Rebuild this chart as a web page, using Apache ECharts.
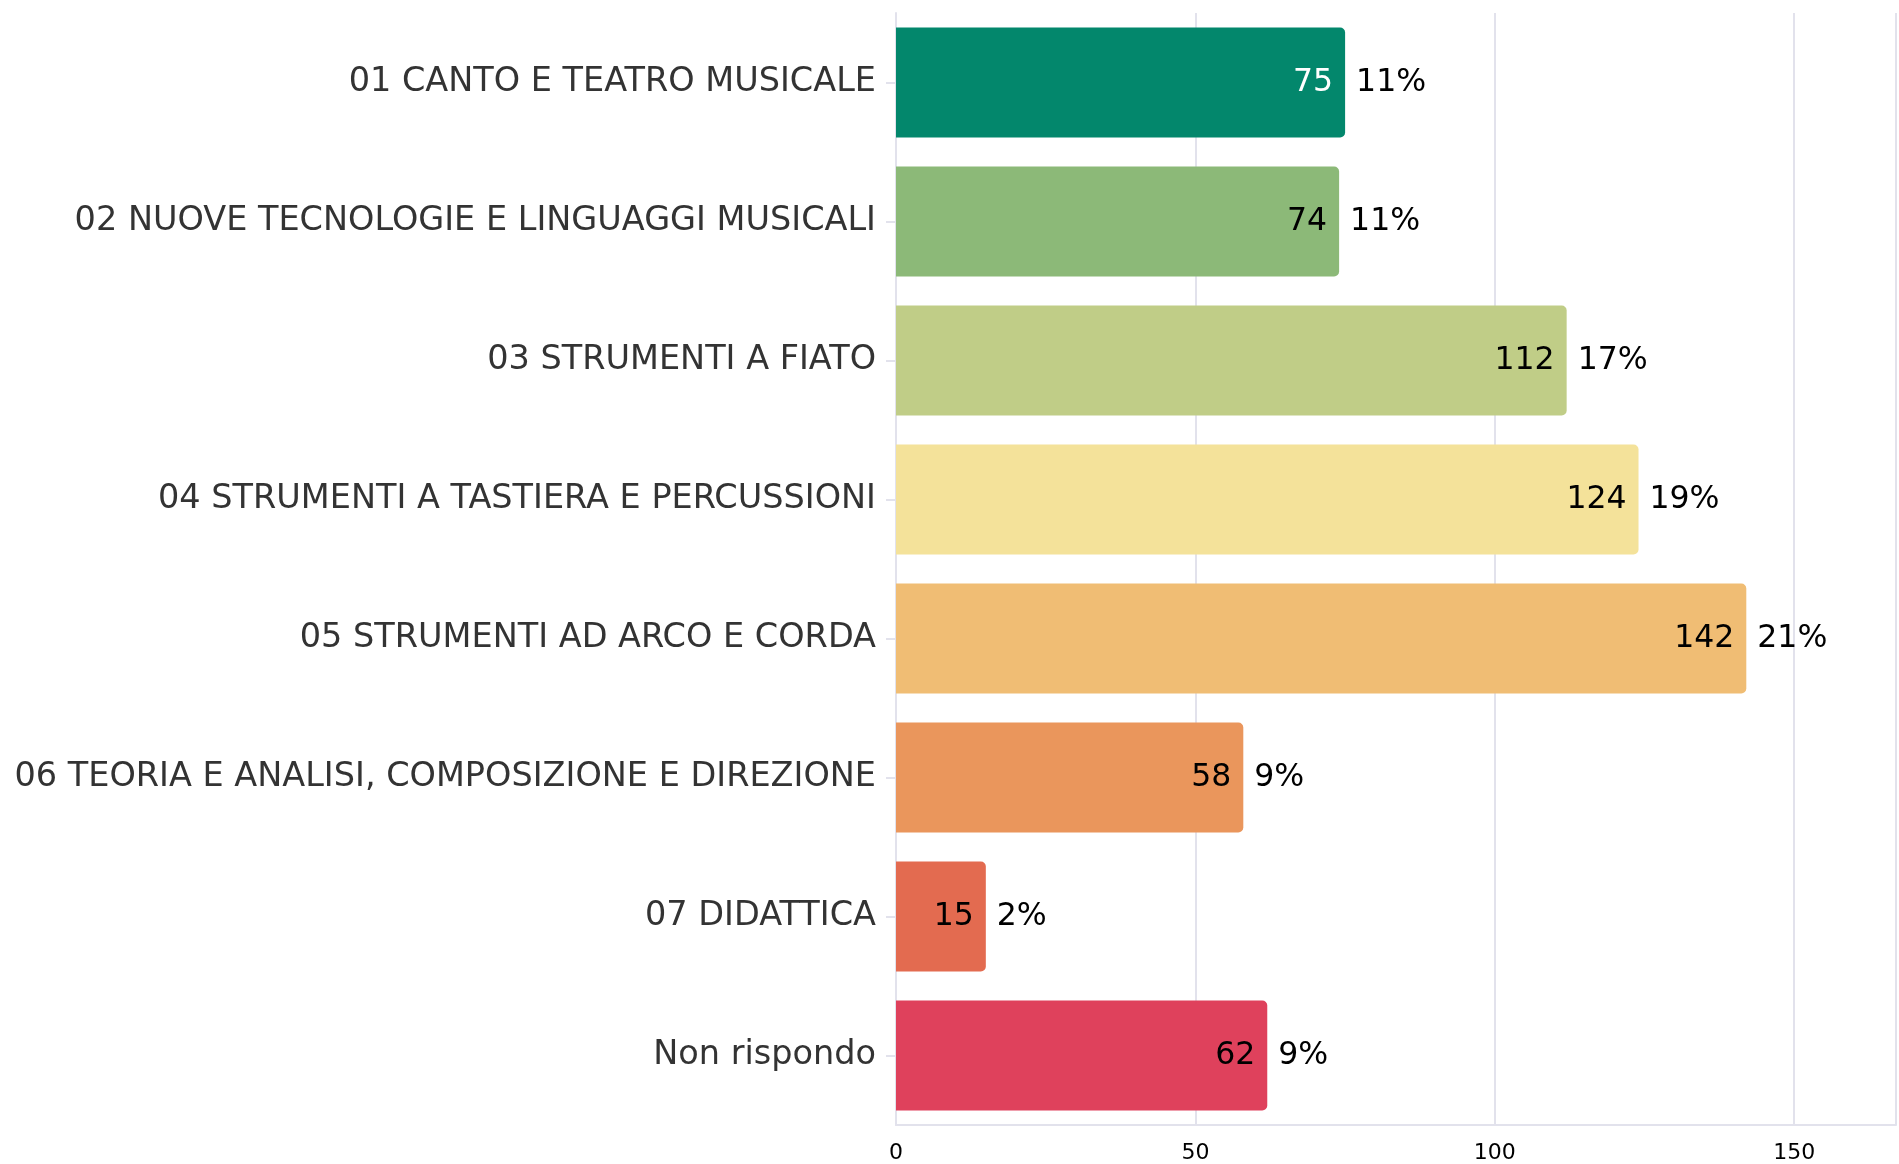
<!DOCTYPE html>
<html>
<head>
<meta charset="utf-8">
<script src="https://cdn.jsdelivr.net/npm/echarts@6/dist/echarts.min.js"></script>
<style>
  html, body { margin: 0; padding: 0; background: #fff; }
  #chart { width: 1899px; height: 1164px; }
</style>
</head>
<body>
<div id="chart"></div>
<script>
  // categorie (dall'alto verso il basso)
  var categories = [
    '01 CANTO E TEATRO MUSICALE',
    '02 NUOVE TECNOLOGIE E LINGUAGGI MUSICALI',
    '03 STRUMENTI A FIATO',
    '04 STRUMENTI A TASTIERA E PERCUSSIONI',
    '05 STRUMENTI AD ARCO E CORDA',
    '06 TEORIA E ANALISI, COMPOSIZIONE E DIREZIONE',
    '07 DIDATTICA',
    'Non rispondo'
  ]
  var counts = [75, 74, 112, 124, 142, 58, 15, 62]
  var percents = ['11%', '11%', '17%', '19%', '21%', '9%', '2%', '9%']
  var colors = ['#03876c', '#8cb978', '#c0cd87', '#f4e29a', '#f0bd74', '#ea965c', '#e36b50', '#df415c']
  var xTicks = [0, 50, 100, 150]

  var font = 'DejaVu Sans'
  var chart = echarts.init(document.getElementById('chart'))

  var barData = counts.map(function (v, i) {
    return {
      value: v,
      itemStyle: { color: colors[i] },
      label: { color: i === 0 ? '#ffffff' : '#000000' }
    }
  })

  chart.setOption({
    animation: false,
    grid: { left: 896, right: 0, top: 13, bottom: 39 },
    xAxis: {
      type: 'value',
      min: 0,
      max: 167,
      interval: 50,
      axisLine: { show: true, lineStyle: { color: '#e2e2ec', width: 2 } },
      axisTick: { show: false },
      splitLine: { show: true, lineStyle: { color: '#e2e2ec', width: 2 } },
      axisLabel: {
        color: '#000',
        fontFamily: font,
        fontSize: 22,
        margin: 17,
        formatter: function (v) { return xTicks.indexOf(v) >= 0 ? String(v) : '' }
      }
    },
    yAxis: {
      type: 'category',
      inverse: true,
      data: categories,
      axisLine: { show: true, lineStyle: { color: '#e2e2ec', width: 2 } },
      axisTick: { show: true, alignWithLabel: true, length: 10, lineStyle: { color: '#e2e2ec', width: 2 } },
      axisLabel: {
        color: '#333333',
        fontFamily: font,
        fontSize: 33.5,
        margin: 20
      }
    },
    series: [
      {
        type: 'bar',
        data: barData,
        barCategoryGap: '21%',
        itemStyle: { borderRadius: [0, 5, 5, 0] },
        label: {
          show: true,
          position: 'insideRight',
          distance: 12,
          fontFamily: font,
          fontSize: 31.5
        }
      },
      {
        // etichette percentuali fuori dalla barra
        type: 'bar',
        data: counts,
        barGap: '-100%',
        barCategoryGap: '21%',
        itemStyle: { color: 'transparent' },
        silent: true,
        label: {
          show: true,
          position: 'right',
          distance: 11,
          color: '#000',
          fontFamily: font,
          fontSize: 31.5,
          formatter: function (p) { return percents[p.dataIndex] }
        }
      }
    ]
  })
</script>
</body>
</html>
